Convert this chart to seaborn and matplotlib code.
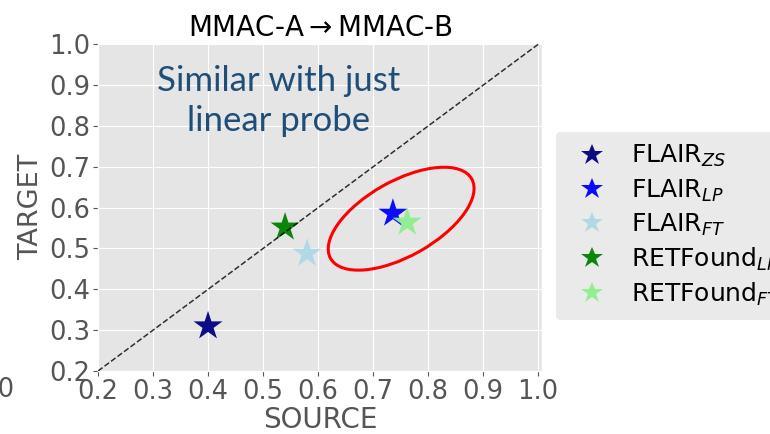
import matplotlib
matplotlib.use("Agg")
import matplotlib.pyplot as plt
import matplotlib.transforms as mtransforms
from matplotlib.patches import Ellipse
import seaborn as sns
import pandas as pd

# ---- data ----
models = [r"FLAIR$_{ZS}$", r"FLAIR$_{LP}$", r"FLAIR$_{FT}$",
          r"RETFound$_{LP}$", r"RETFound$_{FT}$"]
source = [0.40, 0.736, 0.58, 0.54, 0.762]
target = [0.31, 0.586, 0.488, 0.552, 0.564]
colors = ["navy", "blue", "lightblue", "green", "lightgreen"]
ticks = [0.2, 0.3, 0.4, 0.5, 0.6, 0.7, 0.8, 0.9, 1.0]
title = "MMAC-A$\\rightarrow$MMAC-B"

df = pd.DataFrame({"model": models, "source": source, "target": target})

plt.style.use("ggplot")
plt.rcParams["font.family"] = ["DejaVu Sans"]

W, H = 770, 434
fig = plt.figure(figsize=(W / 100, H / 100), dpi=100)
ax = fig.add_axes([98 / W, (H - 371) / H, (542 - 98) / W, (371 - 42.7) / H])

sns.scatterplot(data=df, x="source", y="target", hue="model",
                palette=dict(zip(models, colors)), marker="*", s=480,
                edgecolor="none", alpha=0.95, ax=ax, legend=True, zorder=3)

ax.plot([0.2, 1.0], [0.2, 1.0], color="black", ls="--", lw=1.1, alpha=0.8, zorder=4)

ax.set_xlim(0.2, 1.007)
ax.set_ylim(0.2, 1.004)
ax.set_xticks(ticks)
ax.set_yticks(ticks)
ax.set_xticklabels([f"{t:.1f}" for t in ticks])
ax.set_yticklabels([f"{t:.1f}" for t in ticks])
ax.tick_params(labelsize=18.5, colors="#555555", pad=2)
ax.set_xlabel("SOURCE", fontsize=20, color="#555555", labelpad=1)
ax.set_ylabel("TARGET", fontsize=19.5, color="#555555", labelpad=4)
ax.set_title(title, fontsize=20, color="black", pad=5)

# red ellipse (annotation), sized in pixels and centred in data coords
trans = fig.dpi_scale_trans + mtransforms.ScaledTranslation(0.751, 0.573, ax.transData)
ell = Ellipse((0, 0), width=1.62, height=0.75, angle=29.4, fill=False,
              edgecolor="red", lw=2.2, transform=trans, zorder=5)
ax.add_patch(ell)

ax.text(0.528, 0.862, "Similar with just\nlinear probe", color="#1F4E79",
        fontsize=25, family=["Lato", "DejaVu Sans"], ha="center", va="center",
        linespacing=1.3)

handles, labels = ax.get_legend_handles_labels()
ax.get_legend().remove()
leg = fig.legend(handles, labels, loc="upper left",
                 bbox_to_anchor=(556 / W, 1 - 132 / H), borderaxespad=0,
                 fontsize=18, frameon=True, facecolor="#E5E5E5", edgecolor="none",
                 markerscale=0.75, handletextpad=0.55, labelspacing=0.32,
                 borderpad=0.45)

# fragment of neighbouring panel's tick label
fig.text(14 / W, 1 - 390 / H, "1.0", ha="right", va="center",
         fontsize=18.5, color="#555555")

fig.savefig("out.png", dpi=100)
